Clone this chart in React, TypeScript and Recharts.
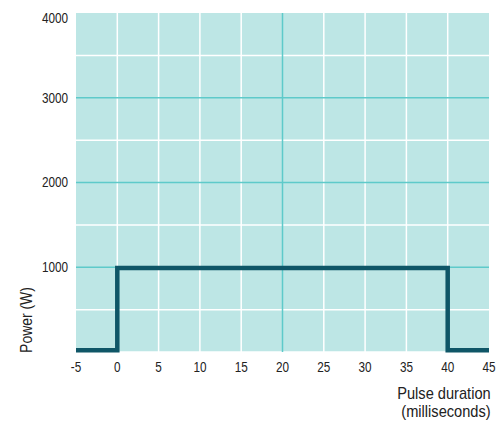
import React from "react";
import { LineChart, Line, XAxis, YAxis, ReferenceLine, ReferenceArea } from "recharts";

const times = [-5, 0, 40, 45];
const powers = [20, 990, 20, 20];
const xTicks = [-5, 0, 5, 10, 15, 20, 25, 30, 35, 40, 45];
const yTicks = [1000, 2000, 3000, 4000];
const whiteY = [0, 500, 1500, 2500, 3500];
const tealY = [1000, 2000, 3000];
const whiteX = [0, 5, 10, 15, 25, 30, 35, 40];
const tealX = [20];

const data = times.map((t, i) => ({ t, p: powers[i] }));

const FONT = "'Liberation Sans', Arial, sans-serif";
const BG = "#bde6e5";
const TEAL = "#5ecaca";
const LINE = "#0f5667";
const SX = 0.84;

const YTick = (props: any) => {
  const { x, y, payload } = props;
  const dy = payload.value === 4000 ? 5 : 0;
  return (
    <g transform={`translate(${x},${y + dy}) scale(${SX},1)`}>
      <text x={0} y={0} dy="0.355em" textAnchor="end" fontSize={14} fontFamily={FONT} fill="#222">
        {payload.value}
      </text>
    </g>
  );
};

const XTick = (props: any) => {
  const { x, y, payload } = props;
  return (
    <g transform={`translate(${x},${y}) scale(${SX},1)`}>
      <text x={0} y={0} dy="0.71em" textAnchor="middle" fontSize={14} fontFamily={FONT} fill="#222">
        {payload.value}
      </text>
    </g>
  );
};

export default function App() {
  return (
    <div style={{ position: "relative", width: 497, height: 422, overflow: "hidden" }}>
      <style>{"html,body{margin:0;padding:0;overflow:hidden;}"}</style>
      <LineChart
        width={497}
        height={422}
        data={data}
        margin={{ top: 13, right: 8, bottom: 40, left: 0 }}
        style={{ overflow: "visible" }}
      >
        <XAxis
          dataKey="t"
          type="number"
          domain={[-5, 45]}
          ticks={xTicks}
          axisLine={false}
          tickLine={false}
          tickSize={0}
          tickMargin={10}
          height={30}
          tick={<XTick />}
          interval={0}
          allowDataOverflow
        />
        <YAxis
          type="number"
          domain={[0, 4000]}
          ticks={yTicks}
          axisLine={false}
          tickLine={false}
          tickSize={0}
          tickMargin={8}
          width={76}
          tick={<YTick />}
        />
        <ReferenceArea x1={-5} x2={45} y1={0} y2={4000} fill={BG} fillOpacity={1} stroke="none" ifOverflow="visible" />
        {whiteY.map((v) => (
          <ReferenceLine key={"wy" + v} y={v} stroke="#ffffff" strokeWidth={1.5} />
        ))}
        {whiteX.map((v) => (
          <ReferenceLine key={"wx" + v} x={v} stroke="#ffffff" strokeWidth={1.5} />
        ))}
        {tealY.map((v) => (
          <ReferenceLine key={"ty" + v} y={v} stroke={TEAL} strokeWidth={1.5} />
        ))}
        {tealX.map((v) => (
          <ReferenceLine key={"tx" + v} x={v} stroke={TEAL} strokeWidth={1.5} />
        ))}
        <Line
          dataKey="p"
          type="stepAfter"
          stroke={LINE}
          strokeWidth={4.5}
          dot={false}
          isAnimationActive={false}
        />
      </LineChart>
      <div
        style={{
          position: "absolute",
          left: 27,
          top: 320,
          transform: "translate(-50%, -50%) rotate(-90deg) scaleX(0.82)",
          fontFamily: FONT,
          fontSize: 17,
          color: "#222",
          whiteSpace: "nowrap",
        }}
      >
        Power (W)
      </div>
      <div
        style={{
          position: "absolute",
          right: 6,
          top: 385,
          textAlign: "right",
          fontFamily: FONT,
          fontSize: 17,
          lineHeight: "18px",
          color: "#222",
          whiteSpace: "nowrap",
          transform: "scaleX(0.86)",
          transformOrigin: "right center",
        }}
      >
        Pulse duration
        <br />
        (milliseconds)
      </div>
    </div>
  );
}
